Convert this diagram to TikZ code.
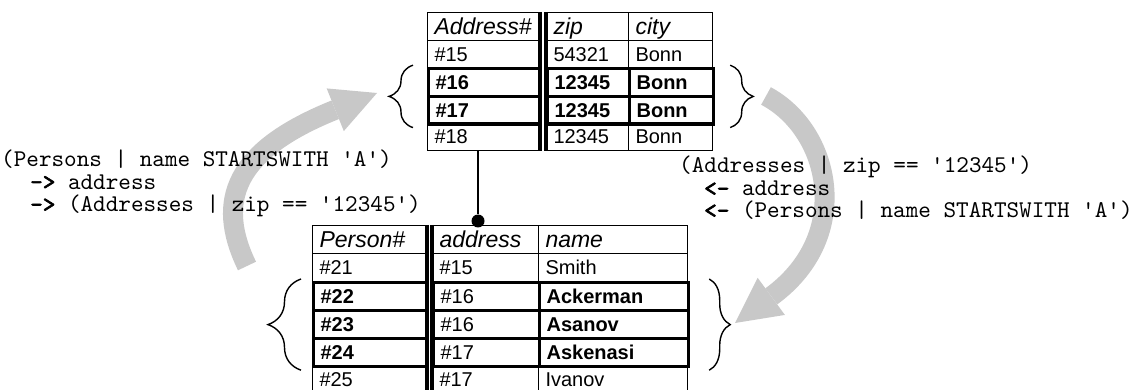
\documentclass[tikz,border=0pt]{standalone}
\usepackage{fontspec}
\setmainfont{Liberation Sans}
\setmonofont{lmmono10-regular.otf}[BoldFont=lmmono10-regular.otf, BoldFeatures={FakeBold=2.5}]
\usetikzlibrary{arrows.meta, decorations.pathreplacing, positioning}
\definecolor{flowgray}{RGB}{200,200,200}
\tikzset{
	cell/.style={draw, line width=1pt, anchor=north west, inner xsep=7pt, inner ysep=0pt, minimum height=27.6pt, text height=14.3pt, text depth=0pt, align=left, font=\fontsize{20}{22}\selectfont},
	head/.style={font=\fontsize{23}{25}\selectfont\itshape, text height=16.5pt},
	plain/.style={},
	hit/.style={line width=3.2pt, font=\fontsize{20}{22}\selectfont\bfseries},
	hitframe/.style={line width=3.2pt},
	sepline/.style={line width=3.5pt},
	setbrace/.style={decorate, decoration={brace, amplitude=#1}, line width=1.4pt},
	flow/.style={line width=20pt, flowgray, -{Triangle[length=45pt, width=46pt, line width=0pt]}},
	query/.style={anchor=base west, inner sep=0pt, font=\fontsize{24}{26}\selectfont\ttfamily},
	fkdot/.style={circle, fill, inner sep=0pt, minimum size=13pt}
}

\begin{document}
\begin{tikzpicture}[x=1pt, y=-1pt]
				\useasboundingbox (0,0) rectangle (1138,390);
				
				% grey flow arrows behind everything
				\draw[flow] (247,266) .. controls (215,200) and (235,150) .. (377,93);
				\draw[flow] (766,96) .. controls (830,130) and (855,235) .. (735,323);
				
				% Addresses table
				\foreach \ca/\cb/\cc/\sa/\sb [count=\r] in {Address\#/zip/city/head/head, \#15/54321/Bonn/plain/plain, \#16/12345/Bonn/hit/hit, \#17/12345/Bonn/hit/hit, \#18/12345/Bonn/plain/plain}{
					\node[cell, \sa, text width=98pt] (a\r-1) at (427,{12+(\r-1)*27.6}) {\ca};
					\node[cell, \sb, text width=68pt] (a\r-2) at (546,{12+(\r-1)*27.6}) {\cb};
					\node[cell, \sa, text width=70pt] (a\r-3) at (628,{12+(\r-1)*27.6}) {\cc};
				}
				\draw[sepline] (a1-1.north east) -- (a5-1.south east);
				\draw[sepline] (a1-2.north west) -- (a5-2.south west);
				
				% Persons table
				\foreach \ca/\cb/\cc/\sa/\sb [count=\r] in {Person\#/address/name/head/head, \#21/\#15/Smith/plain/plain, \#22/\#16/Ackerman/hit/hitframe, \#23/\#16/Asanov/hit/hitframe, \#24/\#17/Askenasi/hit/hitframe, \#25/\#17/Ivanov/plain/plain}{
					\node[cell, \sa, minimum height=28pt, text width=100pt] (p\r-1) at (312,{225+(\r-1)*28}) {\ca};
					\node[cell, \sb, minimum height=28pt, text width=92pt] (p\r-2) at (432,{225+(\r-1)*28}) {\cb};
					\node[cell, \sa, minimum height=28pt, text width=135pt] (p\r-3) at (538,{225+(\r-1)*28}) {\cc};
				}
				\draw[sepline] (p1-1.north east) -- (p6-1.south east);
				\draw[sepline] (p1-2.north west) -- (p6-2.south west);
				
				% reference from address to Address#
				\node[fkdot] (fk) at (478,221) {};
				\draw[line width=2.4pt] (a5-1.south -| fk) -- (fk);
				
				% braces round the selected rows
				\draw[setbrace=24pt] ([xshift=-14pt,yshift=-2pt]a4-1.south west) -- ([xshift=-14pt,yshift=2pt]a3-1.north west);
				\draw[setbrace=23pt] ([xshift=15pt,yshift=2pt]a3-3.north east) -- ([xshift=15pt,yshift=-2pt]a4-3.south east);
				\draw[setbrace=33pt] ([xshift=-11pt,yshift=-2pt]p5-1.south west) -- ([xshift=-11pt,yshift=2pt]p3-1.north west);
				\draw[setbrace=21pt] ([xshift=19pt,yshift=2pt]p3-3.north east) -- ([xshift=19pt,yshift=-2pt]p5-3.south east);
				
				% path queries
				\node[query] (lq1) at (1,167) {(Persons | name STARTSWITH 'A')};
				\node[query] (lq2) at (30,189.5) {\textbf{->} address};
				\node[query] (lq3) at (30,212) {\textbf{->} (Addresses | zip == '12345')};
				
				\node[query] (rq1) at (679,173) {(Addresses | zip == '12345')};
				\node[query] (rq2) at (704,196) {\textbf{<-} address};
				\node[query] (rq3) at (704,218) {\textbf{<-} (Persons | name STARTSWITH 'A')};
			\end{tikzpicture}
\end{document}
